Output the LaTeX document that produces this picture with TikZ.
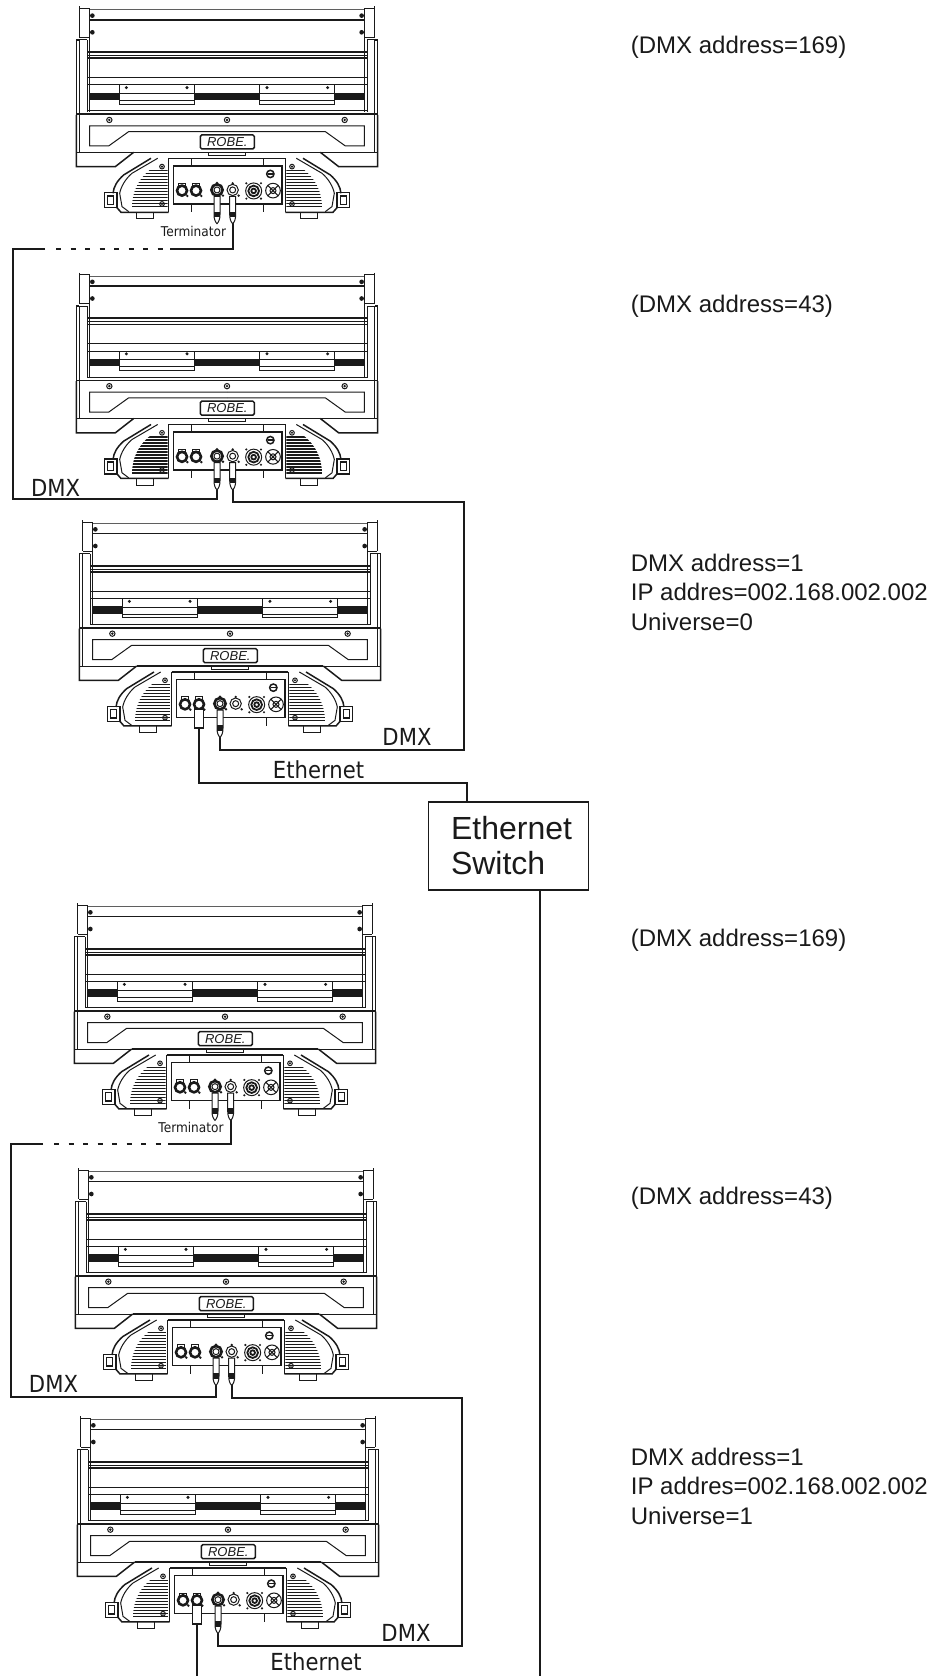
\documentclass[tikz,border=0pt]{standalone}
\usepackage{fontspec}
\setmainfont{Liberation Sans}
\newfontfamily\tahomaish[FakeStretch=0.9]{DejaVu Sans}
\definecolor{ink}{HTML}{1A1A1A}
\tikzset{
  thinl/.style={draw=ink,line width=0.6pt},
  medl/.style={draw=ink,line width=1pt},
  thickl/.style={draw=ink,line width=1.5pt},
  wire/.style={draw=ink,line width=1.8pt,line join=miter},
  dashwire/.style={draw=ink,line width=1.8pt,dash pattern=on 5pt off 9.5pt},
  callout/.style={font=\fontsize{24}{29.5}\selectfont,text=ink,anchor=west,align=left,inner sep=0pt},
  cablelabel/.style={font=\tahomaish\fontsize{23.5}{25}\selectfont,text=ink,inner sep=0pt},
  termlabel/.style={font=\tahomaish\fontsize{13.5}{14}\selectfont,text=ink,inner sep=0pt},
  switchbox/.style={draw=ink,line width=1.8pt,minimum width=160pt,minimum height=88pt,align=left,
     font=\fontsize{32}{35}\selectfont,text=ink,inner sep=0pt},
}
% one moving head: #1 name, #2 centre x, #3 top y
\newcommand{\fixture}[3]{%
\begin{scope}[shift={(#2,#3)},x=0.3333pt,y=-0.3333pt]
 % mirrored halves
 \foreach \s in {1,-1}{
 \begin{scope}[xscale=\s]
  % top bracket
  \draw[medl] (-412,0) -- (-442,0) (-412,0) -- (-412,88) -- (-442,88);
  \draw[thickl] (-442,-6) -- (-442,88);
  \fill[ink] (-404,22) circle (7) (-404,72) circle (7);
  % side column
  \draw[medl] (-420,95) -- (-445,95);
  \draw[thickl] (-445,95) -- (-452,95) -- (-452,320);
  \draw[thinl] (-442,95) -- (-442,320) (-420,95) -- (-420,310);
  \draw[medl] (-412,88) -- (-412,310);
  % clamps and black bars
  \fill[ink] (-412,253) rectangle (-322,275);
  \draw[medl] (-322,230) -- (-322,288) -- (-98,288) -- (-98,230);
  \draw[medl] (-322,255) -- (-98,255) (-322,277) -- (-98,277);
  \fill[ink] (-302,238) circle (5) (-120,238) circle (5);
  % base
  \draw[thickl] (-452,320) -- (-452,475) -- (-335,475) -- (-280,432);
  \draw[thinl] (-442,320) -- (-442,432) (-452,432) -- (-280,432);
  \draw[medl] (-353,335) circle (8);
  \fill[ink] (-353,335) circle (4);
  % panel
  \draw[medl] (0,353) -- (-412,353) -- (-412,413) -- (-355,413) -- (-295,370) -- (0,370);
  % yoke
  \draw[thickl] (-228,450) -- (-310,500) .. controls (-330,518) and (-340,535) .. (-342,555);
  \draw[medl] (-208,450) -- (-285,495) .. controls (-305,512) and (-318,535) .. (-322,555) -- (-315,595) -- (-295,610);
  \draw[thickl] (-332,596) -- (-318,612) -- (-175,612);
  \draw[thickl] (-330,553) -- (-367,553) -- (-367,598) -- (-330,598) -- cycle;
  \draw[thickl] (-358,563) rectangle (-340,588);
  \begin{scope}
   \clip (-178,485) -- (-232,485) .. controls (-262,510) and (-285,545) .. (-285,600) -- (-178,600) -- cycle;
   \foreach \yy in {487,496,...,597}{\draw[draw=ink,line width=1.6pt] (-290,\yy) -- (-178,\yy);}
  \end{scope}
  \draw[medl] (-272,612) -- (-272,632) -- (-222,632) -- (-222,612);
  \draw[medl] (-195,475) circle (7) (-195,587) circle (7);
  \fill[ink] (-195,475) circle (3.5) (-195,587) circle (3.5);
  \draw[thickl] (-175,450) -- (-175,612);
 \end{scope}}
 % horizontal runs
 \draw[draw=ink!70,line width=1pt] (-412,5) -- (412,5);
 \draw[line width=1.6pt,draw=ink] (-412,35) -- (412,35);
 \draw[line width=1.8pt,draw=ink] (-420,131) -- (420,131);
 \draw[thinl] (-420,141) -- (420,141);
 \draw[line width=1.8pt,draw=ink] (-420,150) -- (420,150);
 \draw[medl] (-420,207) -- (420,207) (-420,230) -- (420,230);
 \fill[ink] (-98,253) rectangle (98,275);
 \draw[medl] (-420,308) -- (420,308);
 \draw[line width=1.6pt,draw=ink] (-452,318) -- (452,318);
 \draw[thickl] (-280,432) -- (280,432);
 \draw[medl] (-55,432) -- (-55,442) -- (55,442) -- (55,432);
 \draw[medl] (0,335) circle (8);
 \fill[ink] (0,335) circle (4);
 % logo
 \draw[thickl,fill=white,rounded corners=1.5pt] (-80,380) rectangle (82,422);
 \node[inner sep=0pt,text=ink] (#1-logo) at (1,401) {\fontsize{13}{13}\selectfont\itshape ROBE.};
 % connector panel
 \draw[thickl] (-175,450) -- (175,450);
 \draw[thickl] (-160,473) rectangle (165,587);
 \draw[medl] (-108,450) -- (-108,473) (-108,587) -- (-108,612) (110,450) -- (110,473) (110,587) -- (110,612);
 \draw[thickl] (130,497) circle (11);
 \fill[ink] (122,495) rectangle (138,499);
 \foreach \cx in {-135,-93}{
   \draw[line width=2.6pt,draw=ink,fill=white] (\cx,547) circle (15);
   \draw[medl] (\cx-11,525) rectangle (\cx+11,532);
   \fill[ink] (\cx+16,563) circle (4);
 }
 \draw[line width=2.6pt,draw=ink,fill=white] (-30,545) circle (17);
 \draw[medl] (-30,545) circle (9);
 \fill[ink] (-30,525) circle (5) (-12,562) circle (4);
 \draw[medl,fill=white] (17,545) circle (17);
 \draw[medl] (17,545) circle (9);
 \fill[ink] (17,525) circle (4) (35,562) circle (4);
 \draw[medl] (80,548) circle (24);
 \draw[line width=1.8pt,draw=ink] (80,548) circle (16);
 \draw[line width=1.8pt,draw=ink] (80,548) circle (7);
 \fill[ink] (58,525) circle (3.5) (102,525) circle (3.5) (58,571) circle (3.5) (102,571) circle (3.5);
 \draw[medl] (138,547) circle (22);
 \draw[medl] (122,531) -- (154,563) (122,563) -- (154,531);
 \draw[medl] (138,547) circle (9);
 \coordinate (#1-rj) at (-93,600);
 \coordinate (#1-a) at (-30,645);
 \coordinate (#1-b) at (17,645);
\end{scope}}
% XLR plug below a socket: #1 x, #2 y of its top
\newcommand{\xlrplug}[2]{%
\begin{scope}[shift={(#1,#2)},x=0.3333pt,y=-0.3333pt]
 \draw[medl,fill=white] (-9,0) -- (-9,55) .. controls (-9,68) and (-5,78) .. (0,82) .. controls (5,78) and (9,68) .. (9,55) -- (9,0) -- cycle;
 \fill[ink] (-9,46) rectangle (9,62);
\end{scope}}
\newcommand{\rjplug}[2]{%
\begin{scope}[shift={(#1,#2)},x=0.3333pt,y=-0.3333pt]
 \draw[thickl,fill=white] (-13,0) rectangle (13,57);
\end{scope}}
\begin{document}
\begin{tikzpicture}[x=1pt,y=-1pt]
\useasboundingbox (0,0) rectangle (935,1676);
\fill[white] (0,0) rectangle (935,1676);

\def\cxa{227}\def\tya{8.3}
\def\cxb{227}\def\tyb{274.5}
\def\cxc{230}\def\tyc{522}
\def\cxd{225}\def\tyd{905}
\def\cxe{226}\def\tye{1170}
\def\cxf{228}\def\tyf{1418}

\fixture{fa}{\cxa}{\tya}
\fixture{fb}{\cxb}{\tyb}
\fixture{fc}{\cxc}{\tyc}
\fixture{fd}{\cxd}{\tyd}
\fixture{fe}{\cxe}{\tye}
\fixture{ff}{\cxf}{\tyf}

% route points
\coordinate (r1a) at (170,249);
\coordinate (r1s) at (164,249);
\coordinate (r1e) at (56,249);
\coordinate (r1b) at (45,249);
\coordinate (r1c) at (13,249);
\coordinate (r1d) at (13,499);
\coordinate (r2a) at (464,502);
\coordinate (r2b) at (464,750);
\coordinate (r3a) at (168,1144);
\coordinate (r3s) at (162,1144);
\coordinate (r3e) at (54,1144);
\coordinate (r3b) at (43,1144);
\coordinate (r3c) at (11,1144);
\coordinate (r3d) at (11,1397);
\coordinate (r4a) at (462,1398);
\coordinate (r4b) at (462,1646);
\coordinate (e1) at (467,783);
\coordinate (sw-up) at (467,802);
\coordinate (sw-down) at (540,890);
\coordinate (bot-a) at (540,1676);
\coordinate (bot-b) at (197,1676);

% wires first, plugs on top
\draw[wire] (fa-b) |- (r1a);
\draw[dashwire] (r1e) -- (r1s);
\draw[wire] (r1b) -- (r1c) -- (r1d) -| (fb-a);
\draw[wire] (fb-b) |- (r2a) -- (r2b) -| (fc-a);
\draw[wire] (fc-rj) |- (e1) -- (sw-up);

\node[switchbox] (sw) at (508.5,846) {\hspace*{6pt}Ethernet\\\hspace*{6pt}Switch};
\draw[wire] (sw-down) -- (bot-a);

\draw[wire] (fd-b) |- (r3a);
\draw[dashwire] (r3e) -- (r3s);
\draw[wire] (r3b) -- (r3c) -- (r3d) -| (fe-a);
\draw[wire] (fe-b) |- (r4a) -- (r4b) -| (ff-a);
\draw[wire] (ff-rj) -- (bot-b);

% plugs
\xlrplug{\cxa-10}{\tya+188}
\xlrplug{\cxa+5.7}{\tya+188}
\xlrplug{\cxb-10}{\tyb+188}
\xlrplug{\cxb+5.7}{\tyb+188}
\xlrplug{\cxc-10}{\tyc+188}
\rjplug{\cxc-31}{\tyc+187}
\xlrplug{\cxd-10}{\tyd+188}
\xlrplug{\cxd+5.7}{\tyd+188}
\xlrplug{\cxe-10}{\tye+188}
\xlrplug{\cxe+5.7}{\tye+188}
\xlrplug{\cxf-10}{\tyf+188}
\rjplug{\cxf-31}{\tyf+187}

% labels
\node[termlabel] (t1) at (193.5,231) {Terminator};
\node[termlabel] (t2) at (191,1127) {Terminator};
\node[cablelabel] (d1) at (55.6,487.5) {DMX};
\node[cablelabel] (d2) at (407,736.5) {DMX};
\node[cablelabel] (d3) at (53.5,1384) {DMX};
\node[cablelabel] (d4) at (406,1633) {DMX};
\node[cablelabel] (e1l) at (318.5,770) {Ethernet};
\node[cablelabel] (e2l) at (316,1662) {Ethernet};

\node[callout] (c1) at (630.7,47.3) {(DMX address=169)};
\node[callout] (c2) at (630.7,305.9) {(DMX address=43)};
\node[callout] (c3) at (630.7,592) {DMX address=1\\IP addres=002.168.002.002\\Universe=0};
\node[callout] (c4) at (630.7,939.8) {(DMX address=169)};
\node[callout] (c5) at (630.7,1198.3) {(DMX address=43)};
\node[callout] (c6) at (630.7,1486) {DMX address=1\\IP addres=002.168.002.002\\Universe=1};
\end{tikzpicture}
\end{document}
